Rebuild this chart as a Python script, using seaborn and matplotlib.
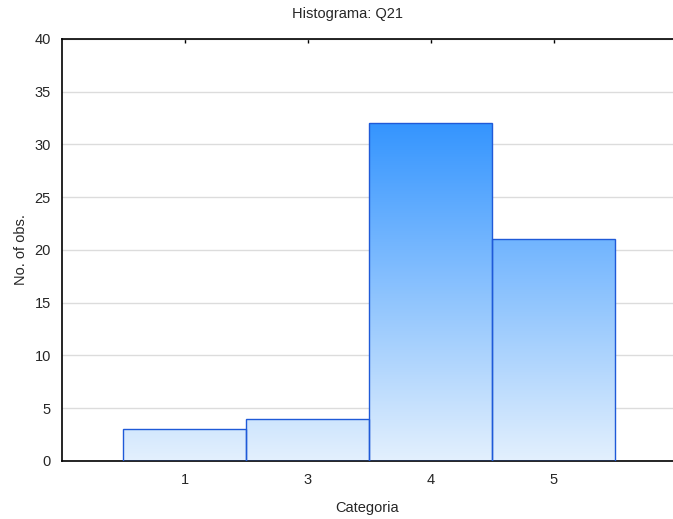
import numpy as np
import pandas as pd
import matplotlib
matplotlib.use("Agg")
import matplotlib.pyplot as plt
import seaborn as sns
from matplotlib.colors import LinearSegmentedColormap

# Dados
categorias = ['1', '3', '4', '5']
contagens = [3, 4, 32, 21]

df = pd.DataFrame({'Categoria': categorias, 'obs': contagens})

sns.set_style("white")
plt.rcParams['font.family'] = ['Liberation Sans', 'DejaVu Sans']

fig = plt.figure(figsize=(6.73, 5.19), dpi=100)
ax = fig.add_axes([0.0921, 0.1118, 0.9079, 0.8131])

ax = sns.barplot(data=df, x='Categoria', y='obs', width=1.0, color='white',
                 edgecolor='#1f5ad8', linewidth=1.0, ax=ax, zorder=3)

# Gradiente vertical (claro em baixo, azul em cima)
cmap = LinearSegmentedColormap.from_list('grad', ['#e3f0fd', '#2f92ff'])
ymax_grad = 33
grad = np.linspace(0, 1, 256).reshape(-1, 1)
for patch in ax.patches:
    patch.set_facecolor('none')
    x0 = patch.get_x()
    w = patch.get_width()
    im = ax.imshow(grad, cmap=cmap, aspect='auto', origin='lower',
                   extent=[x0, x0 + w, 0, ymax_grad], vmin=0, vmax=1,
                   zorder=2.5, interpolation='bicubic')
    im.set_clip_path(patch)

ax.set_xlim(-1, 3.97)
ax.set_ylim(0, 40)
ax.set_yticks(range(0, 41, 5))
ax.yaxis.grid(True, color='#dcdcdc', linewidth=1.0, zorder=0)
ax.set_axisbelow(True)

for s in ['left', 'bottom', 'top']:
    ax.spines[s].set_color('black')
    ax.spines[s].set_linewidth(1.2)
ax.spines['right'].set_visible(False)

ax.tick_params(axis='both', labelsize=10.5, length=3, width=1, color='black',
               direction='in')
ax.tick_params(axis='x', top=True, pad=9)
ax.tick_params(axis='y', length=0, pad=8)

fig.text(0.516, 0.973, 'Histograma: Q21', fontsize=10.5, ha='center', va='center')
ax.set_xlabel('Categoria', fontsize=10.5, labelpad=10)
ax.set_ylabel('No. of obs.', fontsize=10.5, labelpad=5)

fig.savefig('out.png', dpi=100)
